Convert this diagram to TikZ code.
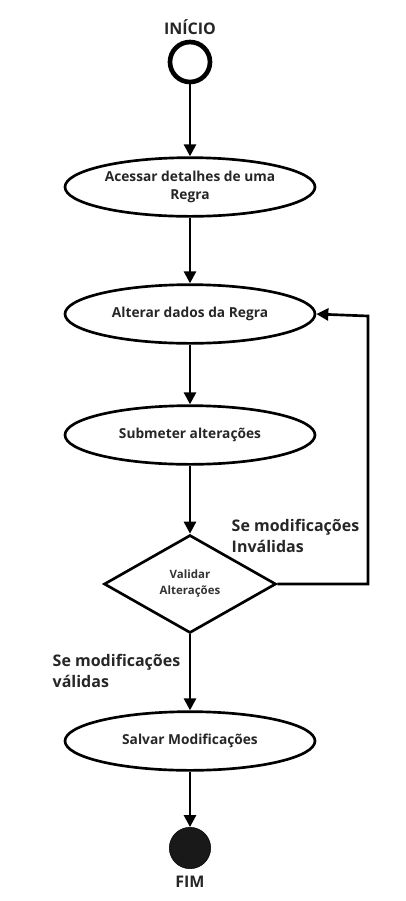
\documentclass[tikz,border=0pt]{standalone}
\usepackage{fontspec}
\setmainfont{Open Sans}
\usetikzlibrary{shapes.geometric,arrows.meta}
\begin{document}
\begin{tikzpicture}[x=0.75pt,y=-0.75pt,
  act/.style={draw=black,line width=2pt,ellipse,minimum width=187.5pt,minimum height=44pt,inner sep=0pt,align=center,font=\bfseries\fontsize{10.3}{13}\selectfont,text=black!85},
  conn/.style={line width=2pt,-{Triangle[length=9pt,width=9pt]}},
  lbl/.style={font=\bfseries\fontsize{12}{16}\selectfont,text=black!85,align=left}]
\useasboundingbox (0,0) rectangle (405,901);
\node[font=\bfseries\fontsize{12}{14}\selectfont,text=black!85] (tstart) at (190,27) {INÍCIO};
\node[draw,circle,line width=3.5pt,minimum size=30pt,inner sep=0pt] (start) at (190,62) {};
\node[act] (a1) at (190,187) {Acessar detalhes de uma\\Regra};
\node[act] (a2) at (190,314) {Alterar dados da Regra};
\node[act] (a3) at (190,435) {Submeter alterações};
\node[draw,diamond,line width=2pt,minimum width=129pt,minimum height=73.5pt,inner sep=0pt,aspect=1.75,align=center,font=\bfseries\fontsize{8.6}{12}\selectfont,text=black!80] (d) at (190,584) {Validar\\Alterações};
\node[act] (a4) at (190,741) {Salvar Modificações};
\node[draw,circle,fill=black!90,minimum size=31pt,inner sep=0pt] (end) at (190,848) {};
\node[font=\bfseries\fontsize{12}{14}\selectfont,text=black!85] (tend) at (190,882) {FIM};
\draw[conn] (start) -- (a1);
\draw[conn] (a1) -- (a2);
\draw[conn] (a2) -- (a3);
\draw[conn] (a3) -- (d);
\draw[conn] (d) -- (a4);
\draw[conn] (a4) -- (end);
\coordinate (c1) at (368,584);
\coordinate (c2) at (368,316);
\draw[conn] (d.east) -- (c1) -- (c2) -- (a2.east);
\node[lbl,anchor=west] (l1) at (227,536) {Se modificações\\Inválidas};
\node[lbl,anchor=west] (l2) at (48,671) {Se modificações\\válidas};
\end{tikzpicture}
\end{document}
